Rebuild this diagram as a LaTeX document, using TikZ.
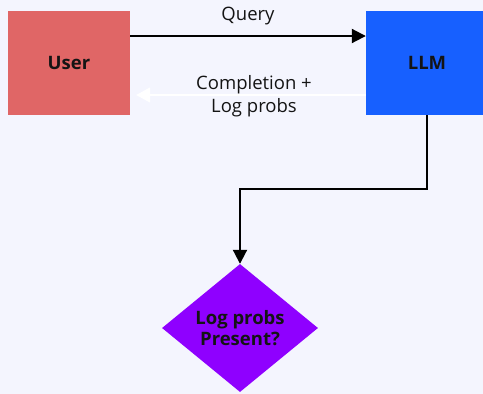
\documentclass[tikz,border=0pt]{standalone}
\usepackage{fontspec}
\setmainfont{Open Sans}
\usetikzlibrary{shapes.geometric,arrows.meta}
\definecolor{bgcol}{HTML}{F4F5FE}
\definecolor{usercol}{HTML}{E06666}
\definecolor{llmcol}{HTML}{1760FF}
\definecolor{decisioncol}{HTML}{8F00FF}
\definecolor{inkcol}{HTML}{141414}
\tikzset{
  procbox/.style={rectangle, draw=none, minimum width=122pt, minimum height=104pt,
    inner sep=0pt, font=\bfseries\fontsize{18.5}{21}\selectfont, text=inkcol},
  decision/.style={diamond, draw=none, fill=decisioncol, minimum width=156pt,
    minimum height=128pt, aspect=1.22, inner sep=0pt, align=center,
    font=\bfseries\fontsize{18.5}{21}\selectfont, text=inkcol},
  flow/.style={line width=2pt, draw=black, -{Triangle[length=14pt,width=14pt]}},
  backflow/.style={line width=1.6pt, draw=white, -{Triangle[length=14pt,width=15pt]}},
  lbl/.style={font=\fontsize{18.5}{23}\selectfont, text=inkcol, align=center, inner sep=0pt}
}
\begin{document}
\begin{tikzpicture}[x=1pt,y=-1pt]
  \fill[bgcol] (0,0) rectangle (483,394);
  \useasboundingbox (0,0) rectangle (483,394);

  \node[procbox, fill=usercol] (user) at (69,63) {User};
  \node[procbox, fill=llmcol] (llm) at (427,63) {LLM};
  \node[decision] (check) at (240,328) {Log probs\\Present?};

  % request and response between user and model
  \draw[flow] ([yshift=27pt]user.east) -- node[lbl, above=10pt] (qlbl) {Query} ([yshift=27pt]llm.west);
  \coordinate (backtip) at ([xshift=6pt,yshift=-32pt]user.east);
  \draw[backflow] ([yshift=-32pt]llm.west) -- node[lbl, xshift=3pt, yshift=-1pt] (clbl) {Completion +\\Log probs} (backtip);

  % model output goes to the decision
  \draw[flow] (llm.south) -- ++(0,74) -| (check.north);
\end{tikzpicture}
\end{document}
